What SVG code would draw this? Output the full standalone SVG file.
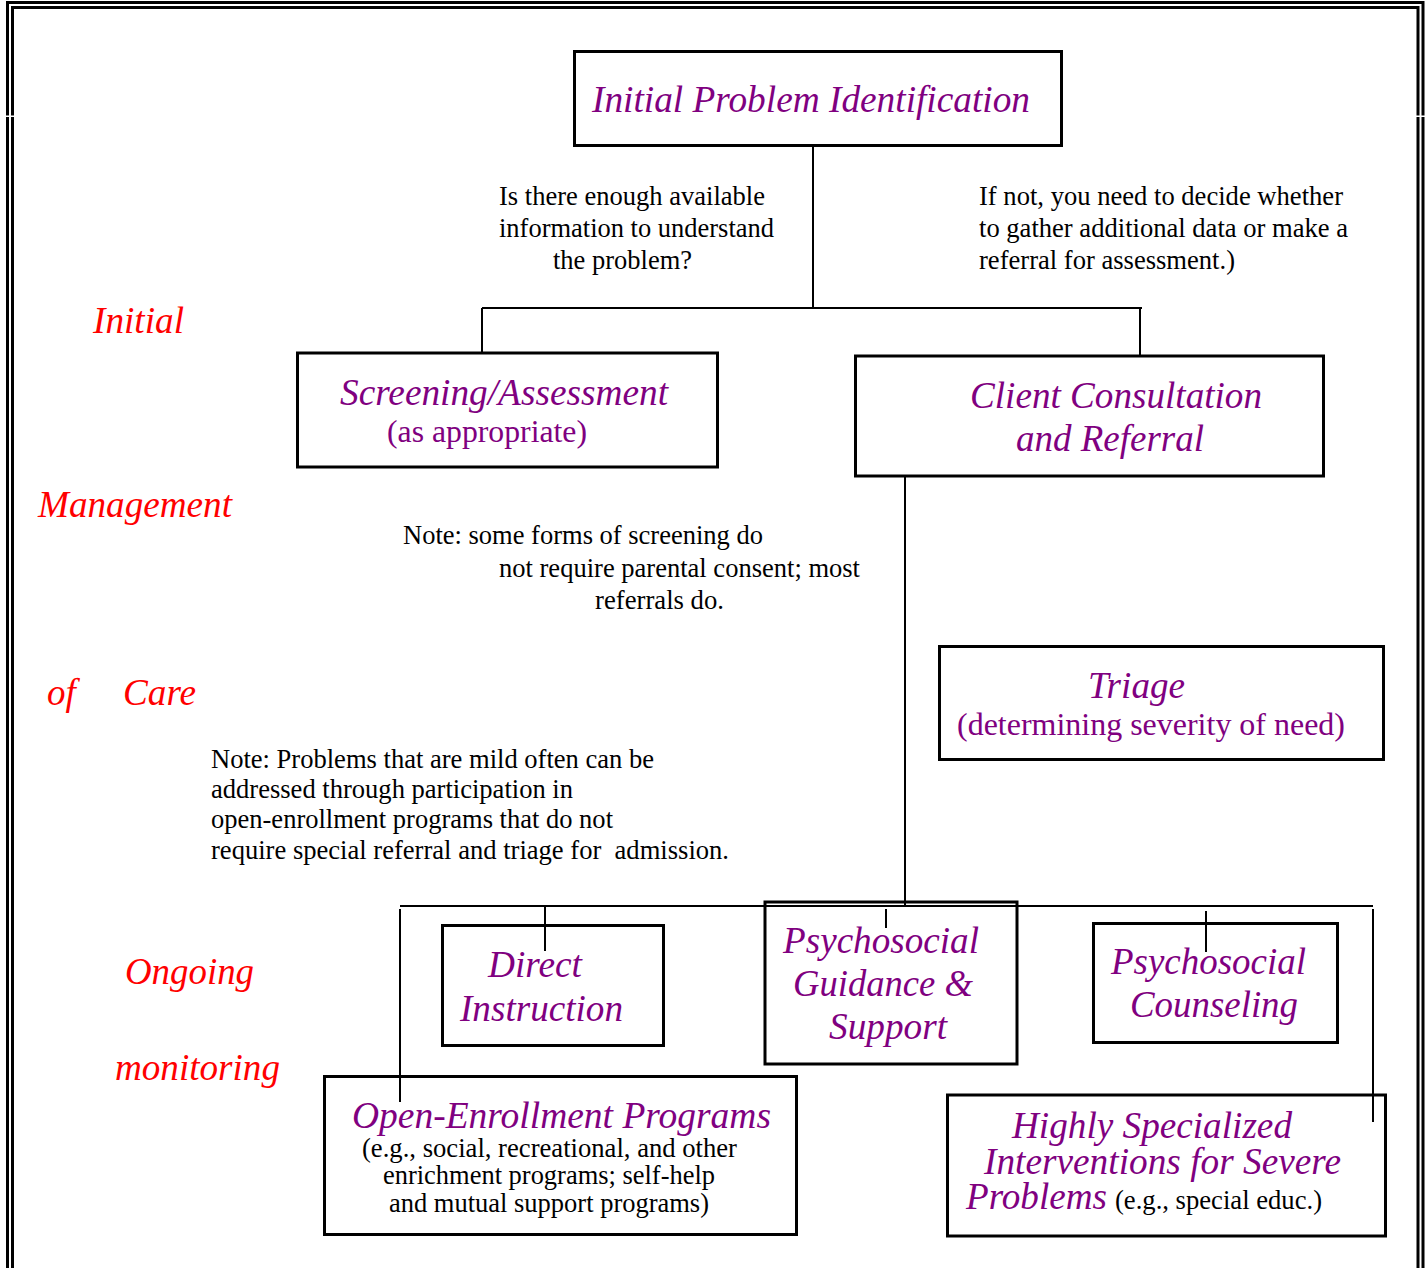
<svg xmlns="http://www.w3.org/2000/svg" width="1426" height="1268" viewBox="0 0 1426 1268">
<style>
text{font-family:'Liberation Serif','Times New Roman',serif}
.box{fill:#fff;stroke:#000;stroke-width:3}
.ln{stroke:#000;stroke-width:2;fill:none}
.bd{stroke:#000;stroke-width:3;fill:none}
.t{font-style:italic;fill:#800080;font-size:37px}
.p{fill:#800080;font-size:32px}
.n{fill:#000;font-size:26.5px}
.s{fill:#000;font-size:26.5px}
.r{font-style:italic;fill:#ff0000;font-size:37px}
</style>
<rect width="1426" height="1268" fill="#fff"/>
<g id="border">
<path class="bd" d="M7.5,1268 V2.5 H1423 V1268"/>
<path class="bd" d="M12.5,1268 V7.5 H1418 V1268"/>
<rect x="5" y="115.5" width="10" height="1.5" fill="#fff"/>
<rect x="1415" y="115.5" width="10" height="1.5" fill="#fff"/>
</g>
<g id="labels">
<text class="r" x="93" y="333" textLength="91" lengthAdjust="spacingAndGlyphs">Initial</text>
<text class="r" x="38" y="517" textLength="194" lengthAdjust="spacingAndGlyphs">Management</text>
<text class="r" x="47" y="705">of</text>
<text class="r" x="123" y="705" textLength="73" lengthAdjust="spacingAndGlyphs">Care</text>
<text class="r" x="125" y="984" textLength="129" lengthAdjust="spacingAndGlyphs">Ongoing</text>
<text class="r" x="115" y="1080" textLength="165" lengthAdjust="spacingAndGlyphs">monitoring</text>
</g>
<g id="note-question">
<text class="n" x="499" y="205" textLength="266" lengthAdjust="spacingAndGlyphs">Is there enough available</text>
<text class="n" x="499" y="237" textLength="275" lengthAdjust="spacingAndGlyphs">information to understand</text>
<text class="n" x="553" y="269" textLength="139" lengthAdjust="spacingAndGlyphs">the problem?</text>
</g>
<g id="note-ifnot">
<text class="n" x="979" y="205" textLength="364" lengthAdjust="spacingAndGlyphs">If not, you need to decide whether</text>
<text class="n" x="979" y="237" textLength="369" lengthAdjust="spacingAndGlyphs">to gather additional data or make a</text>
<text class="n" x="979" y="269" textLength="256" lengthAdjust="spacingAndGlyphs">referral for assessment.)</text>
</g>
<g id="note-screening">
<text class="n" x="403" y="544" textLength="360" lengthAdjust="spacingAndGlyphs">Note: some forms of screening do</text>
<text class="n" x="499" y="577" textLength="361" lengthAdjust="spacingAndGlyphs">not require parental consent; most</text>
<text class="n" x="595" y="609" textLength="129" lengthAdjust="spacingAndGlyphs">referrals do.</text>
</g>
<g id="note-mild">
<text class="n" x="211" y="768" textLength="443" lengthAdjust="spacingAndGlyphs">Note: Problems that are mild often can be</text>
<text class="n" x="211" y="798" textLength="362" lengthAdjust="spacingAndGlyphs">addressed through participation in</text>
<text class="n" x="211" y="828" textLength="402" lengthAdjust="spacingAndGlyphs">open-enrollment programs that do not</text>
<text class="n" x="211" y="859" textLength="518" lengthAdjust="spacingAndGlyphs" xml:space="preserve">require special referral and triage for  admission.</text>
</g>
<g id="initial-problem">
<rect class="box" x="574.5" y="51.5" width="487" height="94"/>
<text class="t" x="592" y="112" textLength="438" lengthAdjust="spacingAndGlyphs">Initial Problem Identification</text>
</g>
<g id="screening">
<rect class="box" x="297.5" y="353" width="420" height="114"/>
<text class="t" x="340" y="405" textLength="328" lengthAdjust="spacingAndGlyphs">Screening/Assessment</text>
<text class="p" x="387" y="442" textLength="200" lengthAdjust="spacingAndGlyphs">(as appropriate)</text>
</g>
<g id="client-consultation">
<rect class="box" x="855.5" y="356" width="468" height="120"/>
<text class="t" x="970" y="408" textLength="292" lengthAdjust="spacingAndGlyphs">Client Consultation</text>
<text class="t" x="1016" y="451" textLength="188" lengthAdjust="spacingAndGlyphs">and Referral</text>
</g>
<g id="triage">
<rect class="box" x="939.5" y="646.5" width="444" height="113"/>
<text class="t" x="1088" y="698" textLength="97" lengthAdjust="spacingAndGlyphs">Triage</text>
<text class="p" x="957" y="735" textLength="388" lengthAdjust="spacingAndGlyphs">(determining severity of need)</text>
</g>
<g id="direct-instruction">
<rect class="box" x="442.5" y="925.5" width="221" height="120"/>
<text class="t" x="488" y="977" textLength="94" lengthAdjust="spacingAndGlyphs">Direct</text>
<text class="t" x="460" y="1021" textLength="163" lengthAdjust="spacingAndGlyphs">Instruction</text>
</g>
<g id="guidance-support">
<rect class="box" x="765" y="902" width="252" height="162"/>
<text class="t" x="783" y="953" textLength="196" lengthAdjust="spacingAndGlyphs">Psychosocial</text>
<text class="t" x="793" y="996" textLength="180" lengthAdjust="spacingAndGlyphs">Guidance &amp;</text>
<text class="t" x="829" y="1039" textLength="118" lengthAdjust="spacingAndGlyphs">Support</text>
</g>
<g id="counseling">
<rect class="box" x="1093.5" y="923.5" width="244" height="119"/>
<text class="t" x="1111" y="974" textLength="195" lengthAdjust="spacingAndGlyphs">Psychosocial</text>
<text class="t" x="1130" y="1017" textLength="168" lengthAdjust="spacingAndGlyphs">Counseling</text>
</g>
<g id="open-enrollment">
<rect class="box" x="324.5" y="1076.5" width="472" height="158"/>
<text class="t" x="352" y="1128" textLength="419" lengthAdjust="spacingAndGlyphs">Open-Enrollment Programs</text>
<text class="s" x="362" y="1157" textLength="375" lengthAdjust="spacingAndGlyphs">(e.g., social, recreational, and other</text>
<text class="s" x="383" y="1184" textLength="332" lengthAdjust="spacingAndGlyphs">enrichment programs; self-help</text>
<text class="s" x="389" y="1212" textLength="320" lengthAdjust="spacingAndGlyphs">and mutual support programs)</text>
</g>
<g id="highly-specialized">
<rect class="box" x="947.5" y="1095" width="438" height="141"/>
<text class="t" x="1012" y="1138" textLength="280" lengthAdjust="spacingAndGlyphs">Highly Specialized</text>
<text class="t" x="984" y="1174" textLength="357" lengthAdjust="spacingAndGlyphs">Interventions for Severe</text>
<text class="t" x="966" y="1209" textLength="141" lengthAdjust="spacingAndGlyphs">Problems</text>
<text class="s" x="1115" y="1209" textLength="207" lengthAdjust="spacingAndGlyphs">(e.g., special educ.)</text>
</g>
<g id="connectors">
<path class="ln" d="M813,147 V308 M482,308 H1142 M482,308 V353 M1140,308 V357"/>
<path class="ln" d="M905,475 V907 M400,906 H1373 M400,909 V1102 M1373,909 V1122"/>
<path class="ln" d="M545,906 V951 M886,909 V928 M1206,911 V952"/>
</g>
</svg>
